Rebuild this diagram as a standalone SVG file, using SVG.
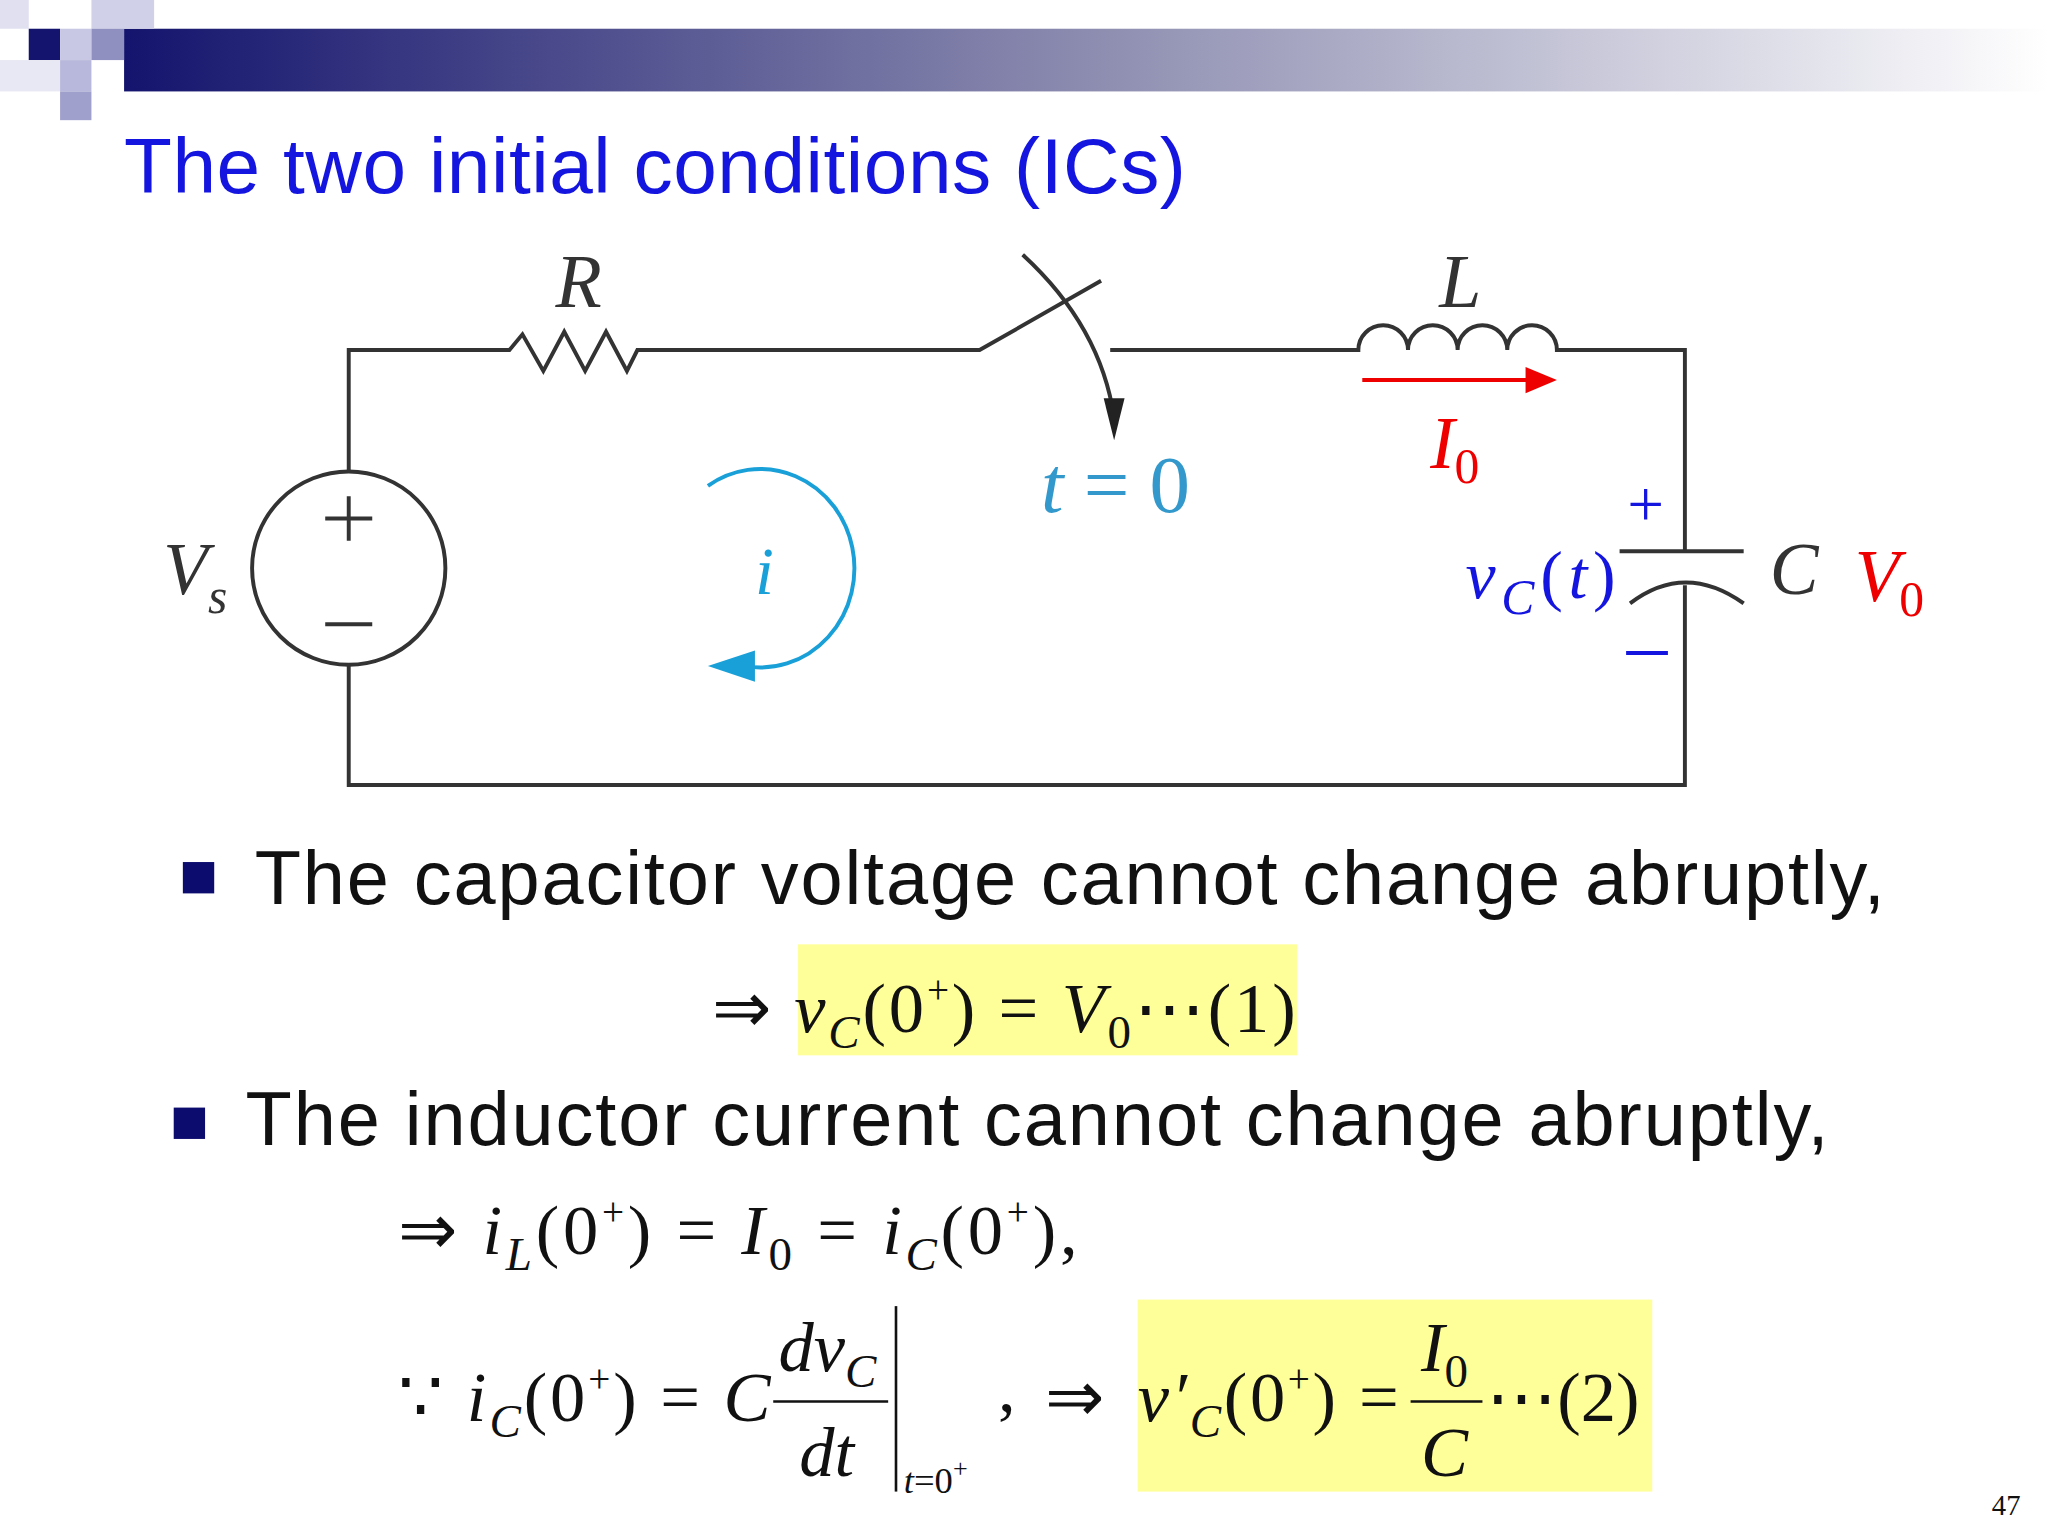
<svg xmlns="http://www.w3.org/2000/svg" width="2048" height="1536" viewBox="0 0 2048 1536">
<defs>
<linearGradient id="bar" x1="0" x2="1" y1="0" y2="0"><stop offset="0" stop-color="#14146e"/><stop offset="0.5" stop-color="#8c8cb0"/><stop offset="1" stop-color="#ffffff"/></linearGradient>
<style>
.w{stroke:#333;stroke-width:3;fill:none}
.m{font-family:"Liberation Serif",serif;font-style:italic}
.r{font-family:"Liberation Serif",serif}
.s{font-family:"Liberation Sans",sans-serif}
</style>
</defs>
<rect width="2048" height="1536" fill="#fff"/>
<g transform="scale(1.30612)">
<g id="header">
<rect x="95" y="22" width="1473" height="48" fill="url(#bar)"/>
<rect x="0" y="0" width="22" height="22" fill="#e0e0f0"/>
<rect x="70" y="0" width="48" height="22" fill="#d0d0e8"/>
<rect x="22" y="22" width="24" height="24" fill="#14146e"/>
<rect x="46" y="22" width="24" height="24" fill="#c8c8e4"/>
<rect x="70" y="22" width="25" height="24" fill="#9090c0"/>
<rect x="0" y="46" width="46" height="24" fill="#e8e8f4"/>
<rect x="46" y="46" width="24" height="24" fill="#b8b8dc"/>
<rect x="46" y="70" width="24" height="22" fill="#a0a0cc"/>
</g>
<text x="95" y="148" class="s" font-size="60" fill="#1515e0" textLength="813">The two initial conditions (ICs)</text>
<g id="circuit">
<path class="w" d="M267,361 V268 H390 L400,256 L416,284 L432,254 L448,284 L464,254 L480,284 L488,268 H750 L843,215"/>
<path class="w" d="M850,268 H1040 A19,19 0 0 1 1078,268 A19,19 0 0 1 1116,268 A19,19 0 0 1 1154,268 A19,19 0 0 1 1192,268 H1290 V422"/>
<path class="w" d="M1240,422 H1335" stroke-width="5"/>
<path class="w" d="M1248,462 Q1290,430 1335,462" stroke-width="5"/>
<path class="w" d="M1290,448 V601 H267 V509"/>
<circle class="w" cx="267" cy="435" r="74"/>
<path class="w" d="M249,397 H285 M267,380 V414 M249,478 H285" stroke-width="2"/>
<path d="M783,195 Q843,250 853,320" stroke="#333" stroke-width="3" fill="none"/>
<path d="M845,305 L853,337 L861,305 z" fill="#222"/>
<path d="M1043,291 H1172" stroke="#e00" stroke-width="3"/>
<path d="M1168,281 L1192,291 L1168,301 z" fill="#e00"/>
<path d="M542,372 A72,76 0 1 1 570,510" stroke="#1aa0d8" stroke-width="3" fill="none"/>
<path d="M578,498 L542,510 L578,522 z" fill="#1aa0d8"/>
<text x="443" y="235" class="m" font-size="58" text-anchor="middle" fill="#333">R</text>
<text x="1118" y="235" class="m" font-size="58" text-anchor="middle" fill="#333">L</text>
<text x="797" y="392" class="m" font-size="62" fill="#3399cc">t<tspan class="r" font-style="normal"> = 0</tspan></text>
<text x="1095" y="358" class="m" font-size="56" fill="#e00">I<tspan font-style="normal" font-size="38" dy="12">0</tspan></text>
<text x="578" y="455" class="m" font-size="52" fill="#1aa0d8">i</text>
<text x="125" y="455" class="m" font-size="56" fill="#333">V<tspan font-size="38" dy="14">s</tspan></text>
<text x="1260" y="403" class="r" font-size="50" text-anchor="middle" fill="#1515e0">+</text>
<path d="M1245,500 H1277" stroke="#1515e0" stroke-width="3"/>
<text x="1122" y="458" class="m" font-size="52" fill="#1515e0" textLength="115">v<tspan font-size="38" dy="12">C</tspan><tspan font-style="normal" dy="-12">(</tspan>t<tspan font-style="normal">)</tspan></text>
<text x="1355" y="455" class="m" font-size="56" fill="#333">C</text>
<text x="1420" y="460" class="m" font-size="56" fill="#e00">V<tspan font-style="normal" font-size="38" dy="12">0</tspan></text>
</g>
<g id="text">
<rect x="140" y="660" width="24" height="24" fill="#0c0c6e"/>
<text x="195" y="692" class="s" font-size="58" fill="#111" textLength="1248">The capacitor voltage cannot change abruptly,</text>
<rect x="133" y="848" width="24" height="24" fill="#0c0c6e"/>
<text x="188" y="877" class="s" font-size="58" fill="#111" textLength="1212">The inductor current cannot change abruptly,</text>
<rect x="611" y="723" width="382" height="85" fill="#ffff99"/>
<text x="545" y="790" class="r" font-size="54" fill="#111" textLength="447">⇒ <tspan class="m">v</tspan><tspan class="m" font-size="36" dy="12">C</tspan><tspan dy="-12">(0</tspan><tspan font-size="30" dy="-22">+</tspan><tspan dy="22">) = </tspan><tspan class="m">V</tspan><tspan font-size="36" dy="12">0</tspan><tspan dy="-12">⋯(1)</tspan></text>
<text x="305" y="960" class="r" font-size="54" fill="#111" textLength="520">⇒ <tspan class="m">i</tspan><tspan class="m" font-size="36" dy="12">L</tspan><tspan dy="-12">(0</tspan><tspan font-size="30" dy="-22">+</tspan><tspan dy="22">) = </tspan><tspan class="m">I</tspan><tspan font-size="36" dy="12">0</tspan><tspan dy="-12"> = </tspan><tspan class="m">i</tspan><tspan class="m" font-size="36" dy="12">C</tspan><tspan dy="-12">(0</tspan><tspan font-size="30" dy="-22">+</tspan><tspan dy="22">),</tspan></text>
<rect x="871" y="995" width="394" height="147" fill="#ffff99"/>
<text x="305" y="1088" class="r" font-size="54" fill="#111" textLength="285">∵ <tspan class="m">i</tspan><tspan class="m" font-size="36" dy="12">C</tspan><tspan dy="-12">(0</tspan><tspan font-size="30" dy="-22">+</tspan><tspan dy="22">) = </tspan><tspan class="m">C</tspan></text>
<text x="596" y="1050" class="m" font-size="54" fill="#111">dv<tspan font-size="36" dy="12">C</tspan></text>
<path d="M592,1073 H680" stroke="#111" stroke-width="2"/>
<text x="612" y="1130" class="m" font-size="54" fill="#111">dt</text>
<path d="M686,1000 V1142" stroke="#111" stroke-width="2"/>
<text x="692" y="1143" class="m" font-size="28" fill="#111">t<tspan class="r" font-style="normal">=0</tspan><tspan class="r" font-style="normal" font-size="20" dy="-12">+</tspan></text>
<text x="764" y="1080" class="r" font-size="54" fill="#111">,</text>
<text x="800" y="1088" class="r" font-size="54" fill="#111">⇒</text>
<text x="871" y="1088" class="r" font-size="54" fill="#111" textLength="200"><tspan class="m">v′</tspan><tspan class="m" font-size="36" dy="12">C</tspan><tspan dy="-12">(0</tspan><tspan font-size="30" dy="-22">+</tspan><tspan dy="22">) = </tspan></text>
<text x="1088" y="1050" class="m" font-size="54" fill="#111">I<tspan font-style="normal" font-size="36" dy="12">0</tspan></text>
<path d="M1080,1073 H1135" stroke="#111" stroke-width="2"/>
<text x="1088" y="1130" class="m" font-size="54" fill="#111">C</text>
<text x="1138" y="1088" class="r" font-size="54" fill="#111">⋯(2)</text>
<text x="1525" y="1160" class="r" font-size="22" fill="#111">47</text>
</g>
</g>
</svg>
